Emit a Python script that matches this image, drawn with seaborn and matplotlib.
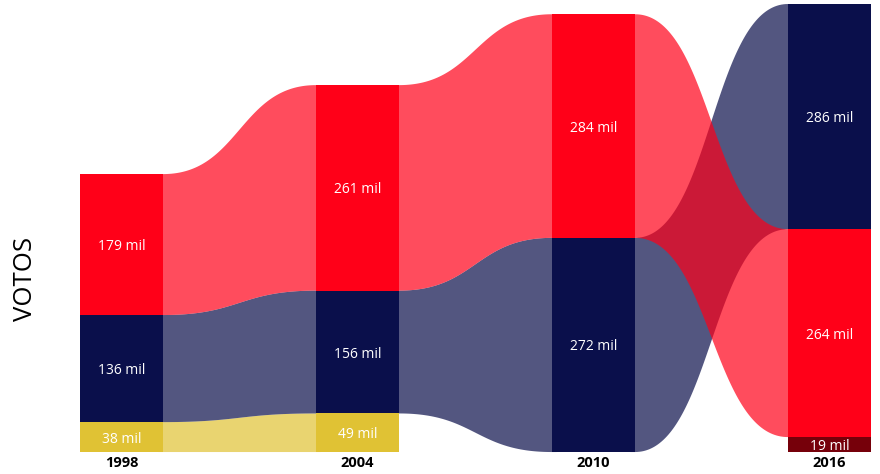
import numpy as np
import pandas as pd
import matplotlib
matplotlib.use("Agg")
import matplotlib.pyplot as plt
import seaborn as sns

# Votes per party and election year (thousands)
years = ["1998", "2004", "2010", "2016"]
rojo = [179, 261, 284, 264]
azul = [136, 156, 272, 286]
amarillo = [38, 49, 0, 0]
granate = [0, 0, 0, 19]

series_names = ["rojo", "azul", "amarillo", "granate"]
series_values = [rojo, azul, amarillo, granate]
colors = {
    "rojo": "#FF0018",
    "azul": "#0A0F4B",
    "amarillo": "#E0C234",
    "granate": "#76000A",
}

df = pd.DataFrame({name: vals for name, vals in zip(series_names, series_values)}, index=years)

sns.set_theme(style="white")
plt.rcParams["font.family"] = ["Open Sans", "DejaVu Sans"]

fig = plt.figure(figsize=(8.8, 4.74), dpi=100)
ax = fig.add_axes([0, 0, 1, 1])

bar_w = 0.352
xs = np.arange(len(years))

# Stack each year by rank: largest value on top
bottoms = {}
for i, yr in enumerate(years):
    col = df.loc[yr]
    order = col.sort_values(ascending=True).index  # smallest at bottom
    b = 0.0
    for name in order:
        v = col[name]
        bottoms[(name, i)] = (b, b + v)
        b += v


def bezier(y0, y1, x0, x1, n=100):
    t = np.linspace(0, 1, n)
    xm = (x0 + x1) / 2
    bx = (1 - t) ** 3 * x0 + 3 * (1 - t) ** 2 * t * xm + 3 * (1 - t) * t ** 2 * xm + t ** 3 * x1
    by = (1 - t) ** 3 * y0 + 3 * (1 - t) ** 2 * t * y0 + 3 * (1 - t) * t ** 2 * y1 + t ** 3 * y1
    # flat stubs reaching under the bars so no seam shows at the edges
    bx = np.concatenate([[x0 - 0.02], bx, [x1 + 0.02]])
    by = np.concatenate([[y0], by, [y1]])
    return bx, by


# Ribbons between consecutive years (red drawn last so it sits on top)
for name in ["amarillo", "granate", "azul", "rojo"]:
    vals = df[name].values
    for i in range(len(years) - 1):
        if vals[i] <= 0 or vals[i + 1] <= 0:
            continue
        x0 = xs[i] + bar_w / 2
        x1 = xs[i + 1] - bar_w / 2
        b0, t0 = bottoms[(name, i)]
        b1, t1 = bottoms[(name, i + 1)]
        tx, ty = bezier(t0, t1, x0, x1)
        bx, by = bezier(b0, b1, x0, x1)
        px = np.concatenate([tx, bx[::-1]])
        py = np.concatenate([ty, by[::-1]])
        ax.fill(px, py, color=colors[name], alpha=0.7, lw=0, zorder=2)

# Bars and value labels
for name in series_names:
    vals = df[name].values
    for i in range(len(years)):
        if vals[i] <= 0:
            continue
        b, t = bottoms[(name, i)]
        ax.bar(xs[i], vals[i], bottom=b, width=bar_w, color=colors[name], lw=0, zorder=3)
        ax.text(xs[i], (b + t) / 2 - 2.5, f"{vals[i]} mil", ha="center", va="center",
                color="white", fontsize=10, zorder=4)

# Year labels under the bars
for i, yr in enumerate(years):
    ax.text(xs[i], -14, yr, ha="center", va="center", fontsize=10.5,
            fontweight="bold", color="black")

ax.set_xlim(-0.515, 3.214)
ax.set_ylim(-27.9, 574.1)
ax.axis("off")

fig.text(25 / 880, 1 - 279 / 474, "VOTOS", rotation=90, ha="center", va="center",
         fontsize=18.5, color="black")

fig.savefig("out.png", dpi=100)
